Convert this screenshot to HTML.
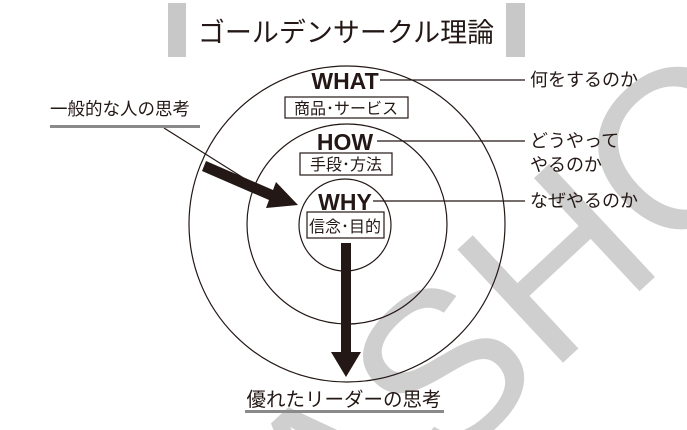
<!DOCTYPE html>
<html><head><meta charset="utf-8"><style>
html,body{margin:0;padding:0;background:#fff;width:687px;height:430px;overflow:hidden}
svg{display:block}
text{font-family:"Liberation Sans","Noto Sans CJK JP",sans-serif;fill:#231815}
</style></head><body>
<svg width="687" height="430" viewBox="0 0 687 430" xmlns="http://www.w3.org/2000/svg">
<text x="330" y="580" transform="rotate(-43 330 580)" font-size="225" style="fill:#cfcfcf">ASHOBO</text>
<rect x="168" y="3" width="18" height="54" fill="#c8c8c8"/>
<rect x="506" y="3" width="19" height="54" fill="#c8c8c8"/>
<text x="346" y="42" font-size="27" text-anchor="middle">ゴールデンサークル理論</text>
<g fill="none" stroke="#231815" stroke-width="1.2">
<circle cx="347" cy="224" r="158"/>
<circle cx="347" cy="224" r="100"/>
<circle cx="345" cy="225" r="46"/>
<line x1="380" y1="80" x2="525" y2="80"/>
<line x1="377" y1="141" x2="525" y2="141"/>
<line x1="373" y1="201" x2="525" y2="201"/>
<line x1="164" y1="128" x2="285" y2="204"/>
<rect x="285" y="97" width="123" height="21" fill="#fff"/>
<rect x="300" y="153" width="92" height="22" fill="#fff"/>
<rect x="307" y="212" width="77" height="26" fill="#fff"/>
</g>
<text x="345" y="89" font-size="23" font-weight="bold" text-anchor="middle">WHAT</text>
<text x="346" y="114" font-size="16" text-anchor="middle">商品･サービス</text>
<text x="345" y="150" font-size="23" font-weight="bold" text-anchor="middle">HOW</text>
<text x="346" y="170" font-size="16" text-anchor="middle">手段･方法</text>
<text x="345" y="210" font-size="23" font-weight="bold" text-anchor="middle">WHY</text>
<text x="345" y="232" font-size="16" text-anchor="middle">信念･目的</text>
<text x="530" y="86" font-size="18">何をするのか</text>
<text x="530" y="147" font-size="18">どうやって</text>
<text x="530" y="171" font-size="18">やるのか</text>
<text x="530" y="207" font-size="18">なぜやるのか</text>
<text x="50" y="115" font-size="17.5">一般的な人の思考</text>
<rect x="50" y="125" width="150" height="3" fill="#8a8a8a"/>
<text x="344" y="406" font-size="19.5" text-anchor="middle">優れたリーダーの思考</text>
<rect x="245" y="410" width="199" height="3" fill="#8a8a8a"/>
<polygon points="206,161 273,190 276,182 298,205 266,208 269,200 202,171" fill="#231815"/>
<polygon points="341,243 351,243 351,352 361,352 346,377 331,352 341,352" fill="#231815"/>
</svg>
</body></html>
